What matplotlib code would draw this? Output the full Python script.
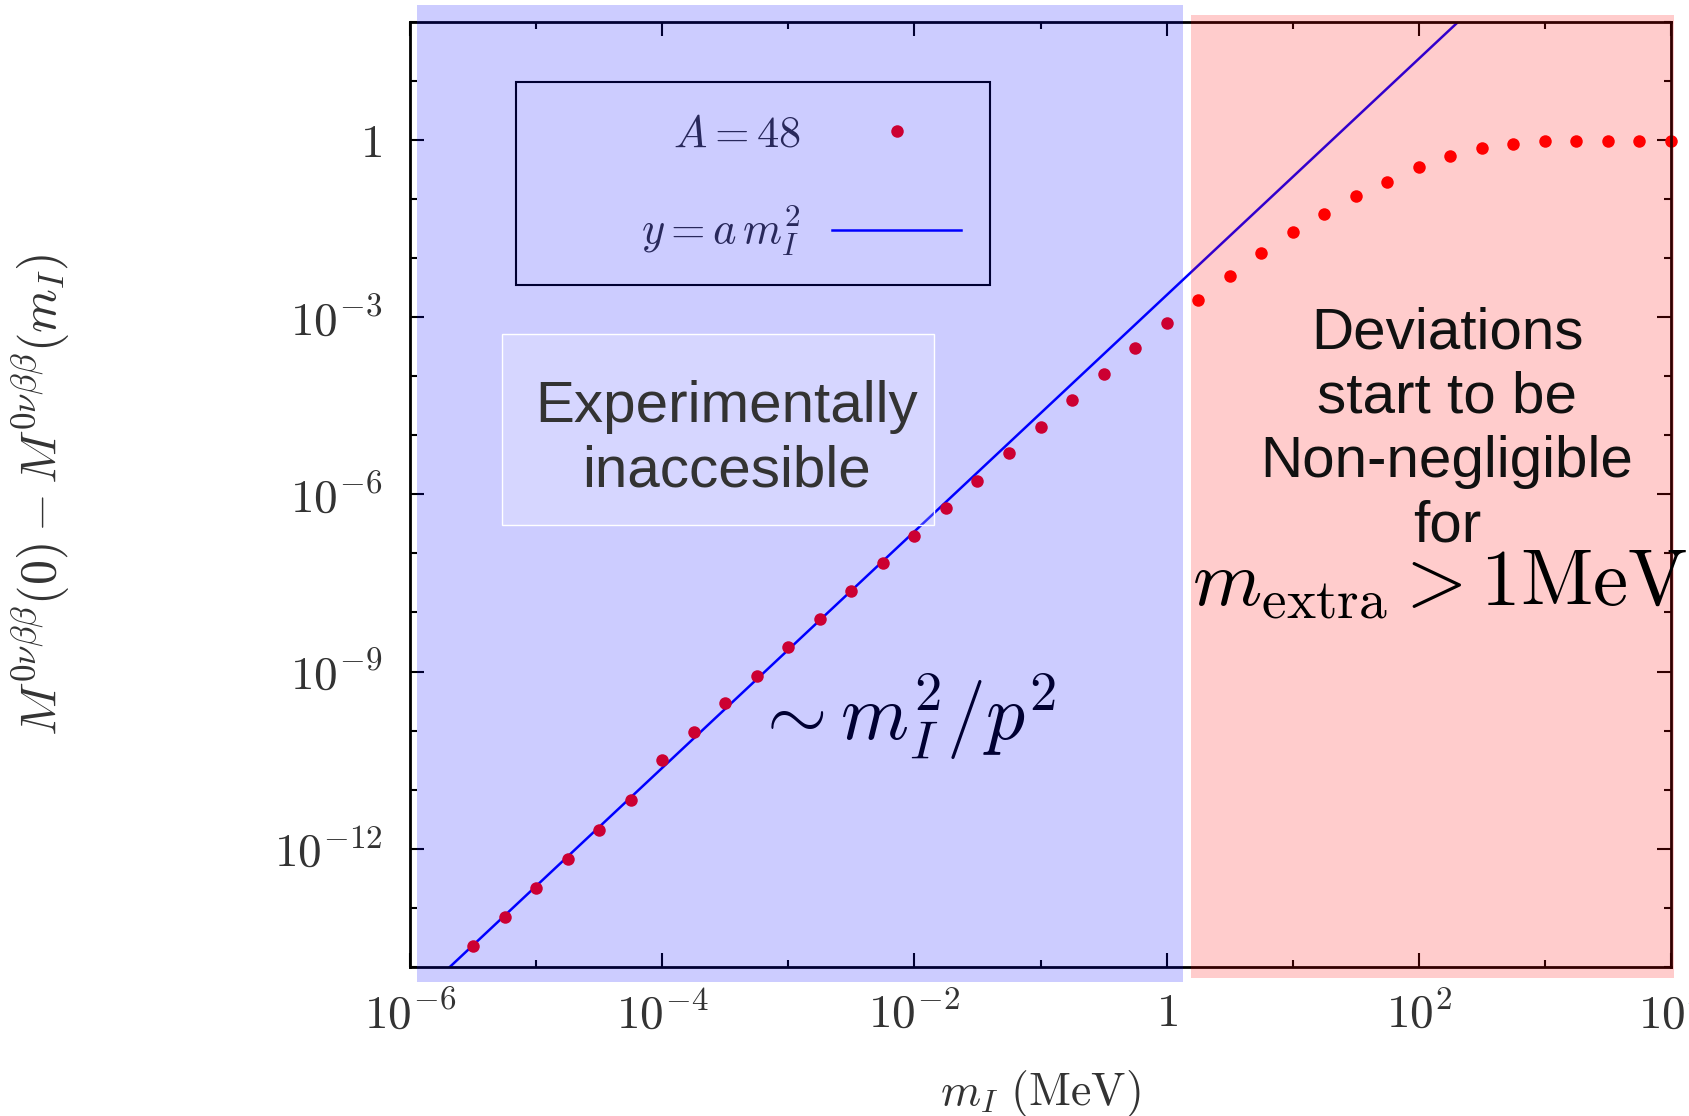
import numpy as np
import matplotlib
matplotlib.use("Agg")
import matplotlib.pyplot as plt
from matplotlib.lines import Line2D
from matplotlib.patches import Rectangle

plt.rcParams['mathtext.fontset'] = 'cm'
plt.rcParams['font.family'] = ['Liberation Sans', 'DejaVu Sans']

# data (log10 of m_I in MeV, log10 of the difference)
log_m = [-5.5, -5.25, -5.0, -4.75, -4.5, -4.25, -4.0, -3.75, -3.5, -3.25,
         -3.0, -2.75, -2.5, -2.25, -2.0, -1.75, -1.5, -1.25, -1.0, -0.75,
         -0.5, -0.25, 0.0, 0.25, 0.5, 0.75, 1.0, 1.25, 1.5, 1.75,
         2.0, 2.25, 2.5, 2.75, 3.0, 3.25, 3.5, 3.75, 4.0]
log_dM = [-13.64, -13.16, -12.67, -12.18, -11.68, -11.17, -10.49, -10.02, -9.53, -9.07,
          -8.58, -8.11, -7.63, -7.16, -6.70, -6.23, -5.77, -5.31, -4.86, -4.40,
          -3.96, -3.52, -3.10, -2.72, -2.30, -1.91, -1.57, -1.25, -0.96, -0.71,
          -0.47, -0.27, -0.14, -0.07, -0.03, -0.03, -0.03, -0.03, -0.02]
fit_a = 2.34e-3   # y = a m_I^2

xticks = [1e-6, 1e-4, 1e-2, 1, 1e2, 1e4]
xticklabels = [r'$10^{-6}$', r'$10^{-4}$', r'$10^{-2}$', r'$1$', r'$10^{2}$', r'$10^{4}$']
xminor = [1e-5, 1e-3, 1e-1, 1e1, 1e3]
yticks = [1e-12, 1e-9, 1e-6, 1e-3, 1]
yticklabels = [r'$10^{-12}$', r'$10^{-9}$', r'$10^{-6}$', r'$10^{-3}$', r'$1$']
yminor = [1e-14, 1e-13, 1e-11, 1e-10, 1e-8, 1e-7, 1e-5, 1e-4, 1e-2, 1e-1, 1e1, 1e2]

m = 10.0 ** np.array(log_m)
dM = 10.0 ** np.array(log_dM)

W, H = 1689, 1116
fig = plt.figure(figsize=(W / 100, H / 100), dpi=100)
ax = fig.add_axes([410 / W, 1 - 967 / H, 1261 / W, 945.5 / H])

mm = np.logspace(-6, 4, 200)
ax.plot(mm, fit_a * mm ** 2, color='#0000ff', lw=1.8)
ax.plot(m, dM, 'o', color='#ff0000', ms=9, mec='none', clip_on=False)

ax.set_xscale('log')
ax.set_yscale('log')
ax.set_xlim(1e-6, 1e4)
ax.set_ylim(1e-14, 1e2)
ax.set_xticks(xticks, xticklabels)
ax.set_xticks(xminor, minor=True)
ax.set_yticks(yticks, yticklabels)
ax.set_yticks(yminor, minor=True)
ax.tick_params(which='both', direction='in', top=True, right=True, width=1.5,
               labelsize=34, labelcolor='#333333')
ax.tick_params(which='major', length=10, pad=18)
ax.tick_params(which='minor', length=5, labelbottom=False, labelleft=False)
ax.tick_params(axis='y', which='major', pad=20)
ax.set_facecolor('none')
for s in ax.spines.values():
    s.set_linewidth(2)

ax.set_xlabel(r'$m_I\ (\mathrm{MeV})$', fontsize=33, color='#333333', va='center')
ax.xaxis.set_label_coords(0.5, -0.134)
ax.set_ylabel(r'$M^{0\nu\beta\beta}(0) - M^{0\nu\beta\beta}(m_I)$', fontsize=36,
              color='#333333', va='center')
ax.yaxis.set_label_coords(-0.293, 0.5)

# legend (frame drawn separately, entries right-aligned inside it)
handles = [Line2D([], [], marker='o', ls='none', color='#ff0000', ms=9, mec='none'),
           Line2D([], [], color='#0000ff', lw=1.8)]
labels = [r'$A = 48$', r'$y = a\,m_I^2$']
leg = ax.legend(handles, labels, loc='center right', bbox_to_anchor=(0.437, 0.8255),
                frameon=False, markerfirst=False, fontsize=32, handlelength=2.9,
                handletextpad=0.7, labelspacing=1.1, borderpad=0, borderaxespad=0)
for t in leg.get_texts():
    t.set_color('#333333')
ax.add_patch(Rectangle((0.084, 0.721), 0.376, 0.215, transform=ax.transAxes,
                       fill=False, ec='black', lw=1.5, zorder=5))

ax.text(0.392, 0.264, r'$\sim m_I^2/p^2$', transform=ax.transAxes, fontsize=56,
        ha='center', va='center', color='black')

# translucent shading on top of everything
def px_rect(x0, y0, x1, y1, **kw):
    return Rectangle((x0 / W, 1 - y1 / H), (x1 - x0) / W, (y1 - y0) / H,
                     transform=fig.transFigure, **kw)

fig.add_artist(px_rect(417, 5, 1183, 982, fc='#0000ff', alpha=0.2, ec='none', zorder=5))
fig.add_artist(px_rect(1191, 15, 1674, 978, fc='#ff0000', alpha=0.2, ec='none', zorder=5))
fig.add_artist(px_rect(502, 334, 934, 525, fc=(1, 1, 1, 0.2), ec='white', lw=1, zorder=6))

fig.text(727 / W, 1 - 439 / H, 'Experimentally\ninaccesible', fontsize=42,
         color='#333333', ha='center', va='center', linespacing=1.24, zorder=10)
fig.text(1447 / W, 1 - 430 / H, 'Deviations\nstart to be\nNon-negligible\nfor', fontsize=42,
         color='#111111', ha='center', va='center', linespacing=1.24, zorder=10)
fig.text(1192 / W, 1 - 585 / H, r'$m_{\rm extra} > 1\mathrm{MeV}$', fontsize=57,
         color='black', ha='left', va='center', zorder=10)

fig.savefig('out.png', dpi=100)
